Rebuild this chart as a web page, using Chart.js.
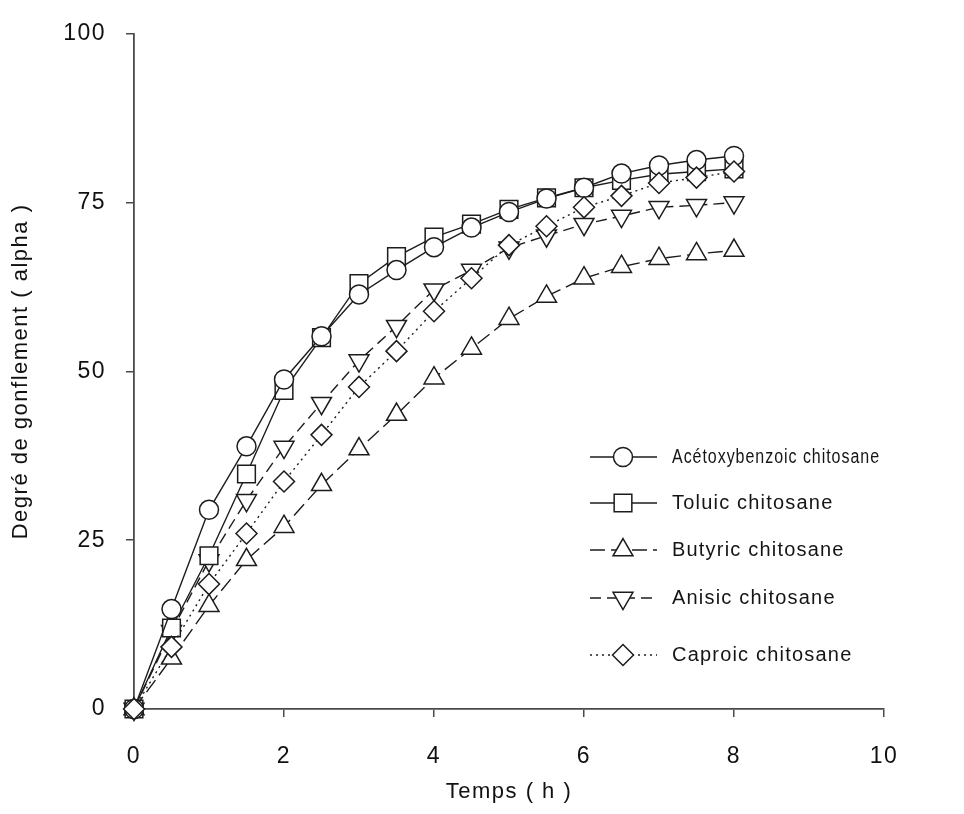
<!DOCTYPE html>
<html>
<head>
<meta charset="utf-8">
<script src="https://cdn.jsdelivr.net/npm/chart.js@4.4.0/dist/chart.umd.min.js"></script>
<style>
  html, body { margin: 0; padding: 0; background: #fff; }
</style>
</head>
<body>
<canvas id="swellChart" width="964" height="814"></canvas>
<script>
// Swelling data (time in hours)
const hours = [0, 0.5, 1, 1.5, 2, 2.5, 3, 3.5, 4, 4.5, 5, 5.5, 6, 6.5, 7, 7.5, 8];
const acetoxy = [0, 14.8, 29.5, 38.9, 48.8, 55.2, 61.4, 65, 68.4, 71.3, 73.6, 75.6, 77.2, 79.3, 80.5, 81.3, 81.9];
const toluic = [0, 12, 22.7, 34.8, 47.2, 55, 63, 67, 69.9, 71.8, 74, 75.7, 77.2, 78.3, 79.2, 79.6, 80];
const butyric = [0, 7.5, 15.3, 22.1, 27, 33.2, 38.5, 43.6, 49, 53.4, 57.8, 61.1, 63.8, 65.5, 66.7, 67.4, 67.9];
const anisic = [0, 11.5, 22, 30.9, 38.8, 45.3, 51.6, 56.7, 62.1, 65, 68.3, 70.1, 71.8, 73, 74.3, 74.6, 75];
const caproic = [0, 9.2, 18.5, 26, 33.7, 40.6, 47.7, 53, 58.9, 63.8, 68.7, 71.5, 74.3, 76, 77.9, 78.7, 79.6];

const xTicks = [0, 2, 4, 6, 8, 10];
const yTicks = [0, 25, 50, 75, 100];

const ink = '#1c1c1c';
const axisInk = '#4a4a4a';
const fontFamily = '"Liberation Sans", Arial, sans-serif';

function points(values) {
    return values.map((v, i) => ({ x: hours[i], y: v }));
}

function series(label, values, style, radius, dash, rotation, order) {
    return {
        label: label,
        data: points(values),
        borderColor: ink,
        borderWidth: 1.4,
        borderDash: dash,
        pointStyle: style,
        pointRadius: radius,
        pointRotation: rotation || 0,
        pointBackgroundColor: '#fff',
        pointBorderColor: ink,
        pointBorderWidth: 1.5,
        pointHoverRadius: radius,
        tension: 0,
        fill: false,
        clip: false,
        order: order || 0
    };
}

// canvas resets its state on resize, so put the letter spacing back before layout and draw
const spacing = {
    id: 'spacing',
    beforeLayout(chart) { chart.ctx.letterSpacing = '1.5px'; },
    beforeDraw(chart) { chart.ctx.letterSpacing = '1.5px'; }
};

// legend drawn inside the plot, lower right
const legendRows = [457, 503, 550, 598, 655];
const inlineLegend = {
    id: 'inlineLegend',
    afterDraw(chart) {
        const ctx = chart.ctx;
        ctx.save();
        ctx.letterSpacing = '1.2px';
        chart.data.datasets.forEach((ds, i) => {
            const y = legendRows[i];
            ctx.strokeStyle = ds.borderColor;
            ctx.lineWidth = ds.borderWidth;
            ctx.setLineDash(ds.borderDash || []);
            ctx.beginPath();
            ctx.moveTo(590, y);
            ctx.lineTo(657, y);
            ctx.stroke();
            ctx.setLineDash([]);
            ctx.fillStyle = '#fff';
            ctx.strokeStyle = ds.pointBorderColor;
            ctx.lineWidth = ds.pointBorderWidth;
            Chart.helpers.drawPoint(ctx, {
                pointStyle: ds.pointStyle,
                radius: ds.pointRadius,
                rotation: ds.pointRotation,
                borderWidth: ds.pointBorderWidth
            }, 623, y);
            ctx.fillStyle = '#151515';
            ctx.font = '20px ' + fontFamily;
            ctx.textAlign = 'left';
            ctx.textBaseline = 'middle';
            ctx.fillText(ds.label, 672, y, 208);
        });
        ctx.restore();
    }
};

const ctx = document.getElementById('swellChart').getContext('2d');
new Chart(ctx, {
    type: 'line',
    data: {
        datasets: [
            series('Acétoxybenzoic chitosane', acetoxy, 'circle', 9.5, []),
            series('Toluic chitosane', toluic, 'rect', 12.5, []),
            series('Butyric chitosane', butyric, 'triangle', 11.5, [15, 6]),
            series('Anisic chitosane', anisic, 'triangle', 11.5, [11, 6], 180),
            series('Caproic chitosane', caproic, 'rectRot', 10.5, [2, 4], 0, -1)
        ]
    },
    options: {
        responsive: false,
        animation: false,
        events: [],
        layout: { padding: { top: 25, right: 80, left: 0, bottom: 0 } },
        plugins: {
            legend: { display: false },
            tooltip: { enabled: false }
        },
        scales: {
            x: {
                type: 'linear',
                min: 0,
                max: 10,
                afterBuildTicks(scale) { scale.ticks = xTicks.map(v => ({ value: v })); },
                afterFit(scale) { scale.height = 105; },
                grid: { drawOnChartArea: false, drawTicks: true, tickLength: 8, color: axisInk, lineWidth: 1.5 },
                border: { display: true, color: axisInk, width: 1.8 },
                ticks: { color: '#111', padding: 26, font: { family: fontFamily, size: 23 }, maxRotation: 0 },
                title: {
                    display: true,
                    text: 'Temps ( h )',
                    color: '#111',
                    font: { family: fontFamily, size: 22 },
                    padding: { top: 0, bottom: 9 }
                }
            },
            y: {
                type: 'linear',
                min: 0,
                max: 100,
                afterBuildTicks(scale) { scale.ticks = yTicks.map(v => ({ value: v })); },
                afterFit(scale) { scale.width = 134; },
                grid: { drawOnChartArea: false, drawTicks: true, tickLength: 8, color: axisInk, lineWidth: 1.5 },
                border: { display: true, color: axisInk, width: 1.8 },
                ticks: { color: '#111', padding: 20, font: { family: fontFamily, size: 23 } },
                title: {
                    display: true,
                    text: 'Degré de gonflement ( alpha )',
                    color: '#111',
                    font: { family: fontFamily, size: 22 },
                    padding: { top: 8, bottom: 0 }
                }
            }
        }
    },
    plugins: [spacing, inlineLegend]
});
</script>
</body>
</html>
